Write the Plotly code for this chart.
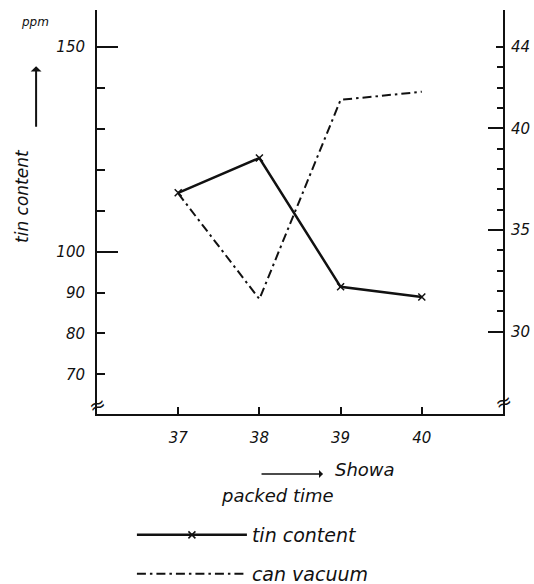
import plotly.graph_objects as go

# ---- data ----
years = [37, 38, 39, 40]
tin_content = [114.4, 122.9, 91.4, 88.9]      # ppm (left axis)
can_vacuum = [36.8, 31.6, 41.4, 41.8]         # right axis

left_ticks = [70, 80, 90, 100, 150]
left_tick_text = ["70", "80", "90", "100", "150"]
left_minor = [110, 120, 130, 140]
left_long = [100, 150]
right_ticks = [30, 35, 40, 44]
right_tick_text = ["30", "35", "40", "44"]
right_minor = [31, 32, 33, 34, 36, 37, 38, 39, 41, 42, 43]
right_long = [30, 35, 40]
x_ticks = [37, 38, 39, 40]

X_RANGE = [36, 41]
LEFT_RANGE = [60.3, 159.1]
RIGHT_RANGE = [25.95, 45.82]

FONT = "DejaVu Sans"
ink = "#111111"

fig = go.Figure()
fig.add_trace(go.Scatter(
    x=years, y=tin_content, name="tin content", mode="lines+markers",
    line=dict(color=ink, width=2.5),
    marker=dict(symbol="x-thin", size=7, line=dict(color=ink, width=1.5)),
    legend="legend", yaxis="y"))
fig.add_trace(go.Scatter(
    x=years, y=can_vacuum, name="can vacuum", mode="lines",
    line=dict(color=ink, width=2, dash="9px,4px,2.5px,4px"),
    legend="legend2", yaxis="y2"))
# helper traces so overlay tick axes are drawn
fig.add_trace(go.Scatter(x=[None], y=[None], yaxis="y3", showlegend=False, hoverinfo="skip"))
fig.add_trace(go.Scatter(x=[None], y=[None], yaxis="y4", showlegend=False, hoverinfo="skip"))

tickfont = dict(family=FONT, size=15, color=ink, style="italic")

fig.update_layout(
    width=534, height=584,
    margin=dict(l=97, r=31, t=10, b=170, autoexpand=False),
    plot_bgcolor="white", paper_bgcolor="white",
    xaxis=dict(range=X_RANGE, tickmode="array", tickvals=x_ticks,
               ticks="inside", ticklen=7, tickwidth=2, tickcolor=ink,
               showline=True, linewidth=2, linecolor=ink, showgrid=False,
               zeroline=False, tickfont=tickfont, ticklabelstandoff=9),
    yaxis=dict(range=LEFT_RANGE, tickmode="array", tickvals=left_ticks,
               ticktext=left_tick_text, ticks="inside", ticklen=8, tickwidth=2,
               tickcolor=ink, showline=True, linewidth=2, linecolor=ink,
               showgrid=False, zeroline=False, tickfont=tickfont,
               ticklabelstandoff=7,
               minor=dict(tickmode="array", tickvals=left_minor, ticks="inside",
                          ticklen=8, tickwidth=2, tickcolor=ink, showgrid=False)),
    yaxis3=dict(range=LEFT_RANGE, overlaying="y", side="left", tickmode="array",
                tickvals=left_long, ticks="inside", ticklen=21, tickwidth=2,
                tickcolor=ink, showticklabels=False, showline=False,
                showgrid=False, zeroline=False),
    yaxis2=dict(range=RIGHT_RANGE, overlaying="y", side="right", tickmode="array",
                tickvals=right_ticks, ticktext=right_tick_text, ticks="inside",
                ticklen=7, tickwidth=2, tickcolor=ink, showline=True,
                linewidth=2, linecolor=ink, showgrid=False, zeroline=False,
                tickfont=tickfont, ticklabelstandoff=3,
                minor=dict(tickmode="array", tickvals=right_minor, ticks="inside",
                           ticklen=6, tickwidth=2, tickcolor=ink, showgrid=False)),
    yaxis4=dict(range=RIGHT_RANGE, overlaying="y", side="right", tickmode="array",
                tickvals=right_long, ticks="inside", ticklen=15, tickwidth=2,
                tickcolor=ink, showticklabels=False, showline=False,
                showgrid=False, zeroline=False),
    legend=dict(x=0.086, y=-0.2995, xanchor="left", yanchor="middle",
                bgcolor="rgba(0,0,0,0)", itemwidth=110,
                font=dict(family=FONT, size=19, color=ink, style="italic")),
    legend2=dict(x=0.086, y=-0.396, xanchor="left", yanchor="middle",
                 bgcolor="rgba(0,0,0,0)", itemwidth=110,
                 font=dict(family=FONT, size=19, color=ink, style="italic")),
    showlegend=True,
)

ann_font = dict(family=FONT, color=ink, style="italic")
common = dict(xref="paper", yref="paper", xanchor="center", yanchor="middle")
fig.add_annotation(text="ppm", x=-0.1527, y=0.970, showarrow=False,
                   font=dict(ann_font, size=12), **common)
fig.add_annotation(text="", x=-0.150, y=0.861, showarrow=True, ax=0, ay=62,
                   arrowhead=1, arrowsize=0.9, arrowwidth=2, arrowcolor=ink,
                   **common)
fig.add_annotation(text="tin content", x=-0.1847, y=0.5396, showarrow=False,
                   textangle=-90, font=dict(ann_font, size=17), **common)
fig.add_annotation(text="Showa", x=0.660, y=-0.1386, showarrow=False,
                   font=dict(ann_font, size=18), **common)
fig.add_annotation(text="", x=0.5567, y=-0.1485, showarrow=True, ax=-63, ay=0,
                   arrowhead=1, arrowsize=0.9, arrowwidth=1.5, arrowcolor=ink,
                   **common)
fig.add_annotation(text="packed time", x=0.4458, y=-0.2005, showarrow=False,
                   font=dict(ann_font, size=18), **common)
# axis break marks
for xp, yp in [(0.0, 0.022), (1.0, 0.03)]:
    fig.add_annotation(text="≈", x=xp, y=yp, showarrow=False, textangle=-20,
                       font=dict(family="DejaVu Sans", size=20, color=ink),
                       **common)

fig.write_html("out.html")
